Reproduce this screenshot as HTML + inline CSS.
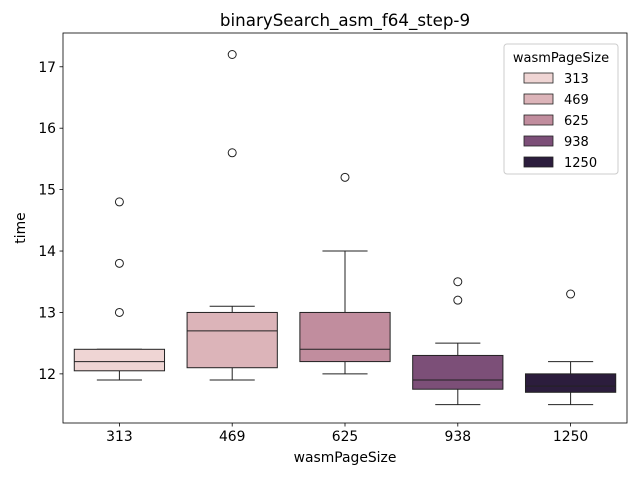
<!DOCTYPE html>
<html><head><meta charset="utf-8"><style>
body{margin:0;background:#fff;font-family:"Liberation Sans","DejaVu Sans",sans-serif;}
</style></head><body>
<svg id="chart" width="640" height="480" xmlns="http://www.w3.org/2000/svg" font-family="DejaVu Sans, Liberation Sans, sans-serif"></svg>
<script>
const categories=["313","469","625","938","1250"];
const colors=["#efd5d4","#dcb4b9","#c18d9e","#7c4f78","#2c1d3d"];
const q1=[12.05,12.1,12.2,11.75,11.7];
const medians=[12.2,12.7,12.4,11.9,11.8];
const q3=[12.4,13.0,13.0,12.3,12.0];
const whiskerLow=[11.9,11.9,12.0,11.5,11.5];
const whiskerHigh=[12.4,13.1,14.0,12.5,12.2];
const outliers=[[13.0,13.8,14.8],[15.6,17.2],[15.2],[13.2,13.5],[13.3]];
const yTicks=[12,13,14,15,16,17];

const svg=document.getElementById('chart');
const NS="http://www.w3.org/2000/svg";
const L=63,R=627,T=33,B=423;
const yMin=11.2,yMax=17.55;
function y(v){return B-(v-yMin)/(yMax-yMin)*(B-T);}
const step=(R-L)/categories.length;
function x(i){return L+step*(i+0.5);}
function el(tag,attrs,parent){const e=document.createElementNS(NS,tag);for(const k in attrs)e.setAttribute(k,attrs[k]);(parent||svg).appendChild(e);return e;}

const title=el('text',{x:345,y:26,'text-anchor':'middle','font-size':16.7});
title.textContent="binarySearch_asm_f64_step-9";



yTicks.forEach(t=>{
  const g=el('g',{});
  
  
  el('line',{x1:L-3.5,x2:L,y1:y(t),y2:y(t),stroke:'#000','stroke-width':0.8},g);
  const tx=el('text',{x:L-7,y:y(t)+5,'text-anchor':'end','font-size':13.9},g);tx.textContent=t;
});
categories.forEach((c,i)=>{
  const g=el('g',{});
  
  
  el('line',{x1:x(i),x2:x(i),y1:B,y2:B+3.5,stroke:'#000','stroke-width':0.8},g);
  const tx=el('text',{x:x(i),y:B+18,'text-anchor':'middle','font-size':13.9},g);tx.textContent=c;
});
const xl=el('text',{x:345,y:462,'text-anchor':'middle','font-size':13.9});xl.textContent="wasmPageSize";


const yl=el('text',{x:25,y:228,'text-anchor':'middle','font-size':13.9,transform:'rotate(-90 25 228)'});yl.textContent="time";



const bw=step*0.8;
categories.forEach((c,i)=>{
  const g=el('g',{});
  
  
  const cx=x(i);
  el('line',{x1:cx,x2:cx,y1:y(whiskerLow[i]),y2:y(q1[i]),stroke:'#222','stroke-width':1},g);
  el('line',{x1:cx,x2:cx,y1:y(q3[i]),y2:y(whiskerHigh[i]),stroke:'#222','stroke-width':1},g);
  el('line',{x1:cx-bw/4,x2:cx+bw/4,y1:y(whiskerLow[i]),y2:y(whiskerLow[i]),stroke:'#222'},g);
  el('line',{x1:cx-bw/4,x2:cx+bw/4,y1:y(whiskerHigh[i]),y2:y(whiskerHigh[i]),stroke:'#222'},g);
  el('rect',{x:cx-bw/2,y:y(q3[i]),width:bw,height:y(q1[i])-y(q3[i]),fill:colors[i],stroke:'#222','stroke-width':1},g);
  el('line',{x1:cx-bw/2,x2:cx+bw/2,y1:y(medians[i]),y2:y(medians[i]),stroke:'#222','stroke-width':1},g);
  outliers[i].forEach(o=>{el('circle',{cx:cx,cy:y(o),r:4,fill:'none',stroke:'#222','stroke-width':1},g);});
});
const frame=el('rect',{x:L,y:T,width:R-L,height:B-T,fill:'none',stroke:'#000','stroke-width':0.8});



const lg=el('g',{});


el('rect',{x:504,y:44,width:114,height:130,rx:3,fill:'#fff','fill-opacity':0.8,stroke:'#ccc','stroke-width':1},lg);
const lt=el('text',{x:561,y:62,'text-anchor':'middle','font-size':13},lg);lt.textContent="wasmPageSize";
categories.forEach((c,i)=>{
  const e=el('g',{},lg);
  
  
  const cy=78+i*21;
  el('rect',{x:524,y:cy-5,width:29,height:10,fill:colors[i],stroke:'#222','stroke-width':0.8},e);
  const t=el('text',{x:564,y:cy+5,'font-size':13},e);t.textContent=c;
});
</script>
</body></html>
